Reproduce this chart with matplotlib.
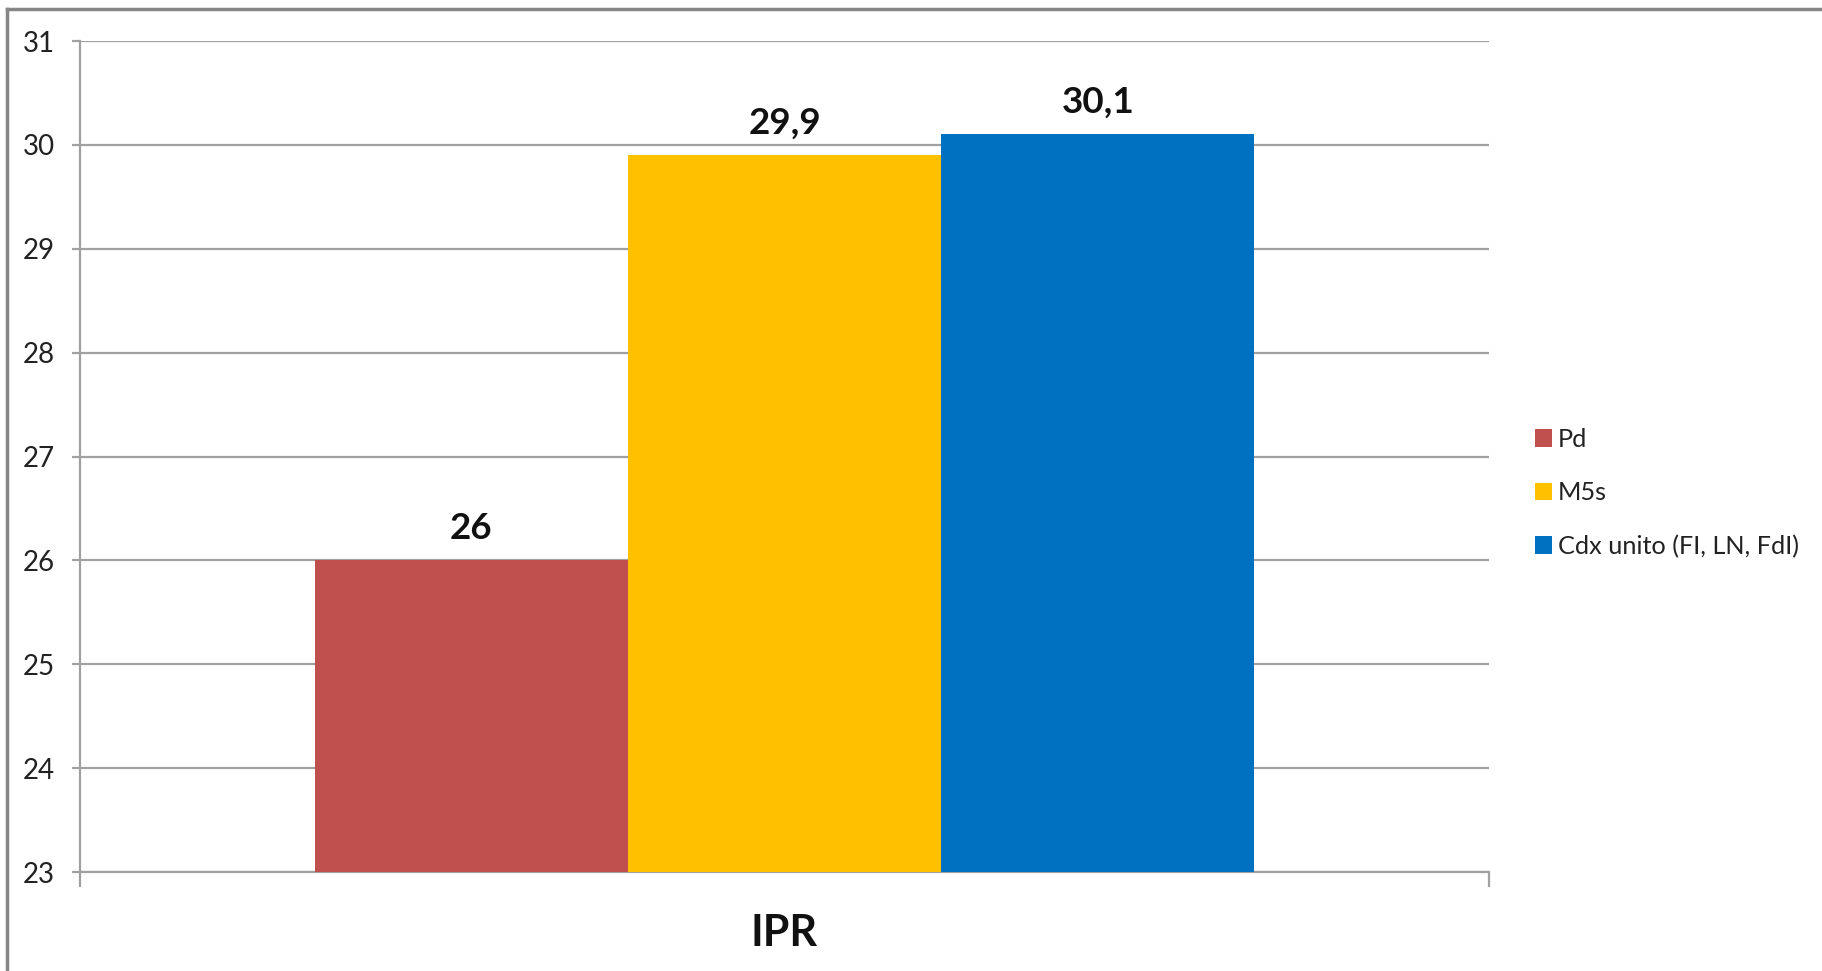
import numpy as np
import matplotlib.pyplot as plt
from matplotlib.lines import Line2D

plt.rcParams['font.family'] = ['Lato', 'DejaVu Sans']

# Data
category = "IPR"
series = ["Pd", "M5s", "Cdx unito (FI, LN, FdI)"]
values = [26.0, 29.9, 30.1]
colors = ["#C0504D", "#FFC000", "#0070C0"]
yticks = [23, 24, 25, 26, 27, 28, 29, 30, 31]

fig = plt.figure(figsize=(18.22, 9.71), dpi=100)
ax = fig.add_axes([80/1822, 1-872/971, (1489-80)/1822, (872-41)/971])

# bars, side by side inside one category
w = 0.2223
offsets = (np.arange(len(values)) - 1) * w
for off, v, c, name in zip(offsets, values, colors, series):
    bars = ax.bar(off, v - yticks[0], bottom=yticks[0], width=w, color=c,
                  label=name, zorder=3)
    ax.bar_label(bars, labels=[("%g" % v).replace(".", ",")], padding=11,
                 fontsize=26.5, fontweight="bold", color="#111111")

ax.set_xlim(-0.5, 0.5)
ax.set_ylim(yticks[0], yticks[-1])
ax.set_yticks(yticks)
ax.set_xticks([-0.5, 0.5])
ax.set_xticklabels([])
ax.text(0, -0.073, category, transform=ax.get_xaxis_transform(), ha="center",
        va="center", fontsize=31, fontweight="bold", color="#111111")

ax.grid(axis="y", color="#A0A0A0", linewidth=1.6, zorder=0)
for s in ["top", "right"]:
    ax.spines[s].set_visible(False)
ax.spines["left"].set_color("#A0A0A0")
ax.spines["bottom"].set_color("#A0A0A0")
ax.spines["left"].set_linewidth(1.6)
ax.spines["bottom"].set_linewidth(1.6)
ax.tick_params(axis="y", length=6, width=1.6, color="#A0A0A0", labelsize=20,
               labelcolor="#222222", pad=12)
ax.tick_params(axis="x", length=10.5, width=1.6, color="#A0A0A0")

leg = fig.legend(loc="center left", bbox_to_anchor=(1522/1822, 1-493/971),
                 frameon=False, fontsize=18.2, handlelength=0.68, handleheight=0.68,
                 handletextpad=0.25, labelspacing=1.2, borderpad=0)
for t in leg.get_texts():
    t.set_color("#222222")

# outer chart border (only left and top visible in the crop)
fig.add_artist(Line2D([7/1822, 7/1822], [0, 1-9/971], transform=fig.transFigure,
                      color="#868686", linewidth=2.5))
fig.add_artist(Line2D([7/1822, 1], [1-9/971, 1-9/971], transform=fig.transFigure,
                      color="#868686", linewidth=2.5))

fig.savefig("out.png", dpi=100)
